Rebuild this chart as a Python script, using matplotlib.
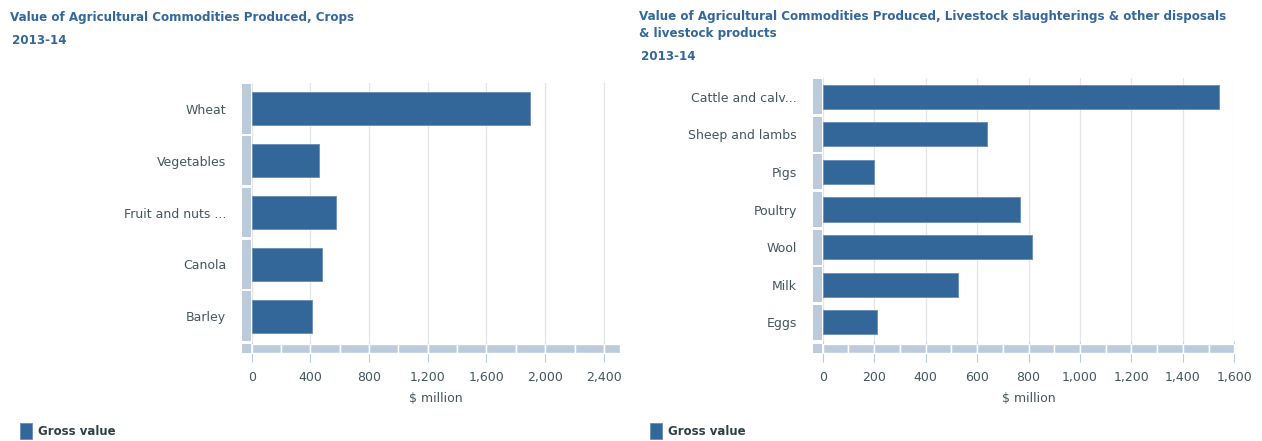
import matplotlib
matplotlib.use('Agg')
import matplotlib.pyplot as plt
import matplotlib.transforms as mtrans
from matplotlib.patches import Rectangle
import numpy as np

W, H, DPI = 1262, 441, 100

crop_title = 'Value of Agricultural Commodities Produced, Crops'
crop_names = ['Wheat', 'Vegetables', 'Fruit and nuts ...', 'Canola', 'Barley']
crop_values = [1897, 462, 574, 479, 411]
crop_ticks = [0, 400, 800, 1200, 1600, 2000, 2400]
crop_xmax = 2510

stock_title = ('Value of Agricultural Commodities Produced, Livestock slaughterings & other disposals\n'
               '& livestock products')
stock_names = ['Cattle and calv...', 'Sheep and lambs', 'Pigs', 'Poultry', 'Wool', 'Milk', 'Eggs']
stock_values = [1540, 640, 198, 767, 813, 527, 211]
stock_ticks = [0, 200, 400, 600, 800, 1000, 1200, 1400, 1600]
stock_xmax = 1600

year = '2013-14'
series_name = 'Gross value'
x_label = '$ million'

BAR = '#336699'
BAR_EDGE = '#6f93bd'
BAND = '#bccbdc'
GRID = '#e6e6e6'
TITLE_C = '#33679e'
TEXT_C = '#44565c'
LEG_C = '#2e4047'

BAND_TOP, BAND_BOT, TICK_END = 343.5, 353.0, 362.0


def draw_panel(fig, box, names, values, ticks, xmax, step, bar_h, block_h):
    x0, y0, x1, y1 = box  # pixel box, y measured from top
    pw, ph = x1 - x0, y1 - y0
    ax = fig.add_axes([x0 / W, 1 - y1 / H, pw / W, ph / H])
    ax.set_axisbelow(True)
    y = np.arange(len(names))
    ax.barh(y, values, height=bar_h, color=BAR, edgecolor=BAR_EDGE, linewidth=0.7,
            label=series_name, zorder=3)
    ax.set_xlim(0, xmax)
    ax.set_ylim(len(names) - 0.5, -0.5)
    ax.set_xticks(ticks)
    ax.set_xticklabels([f'{t:,}' for t in ticks])
    ax.set_yticks(y)
    ax.set_yticklabels(names)
    ax.grid(axis='x', color=GRID, linewidth=0.9)
    for s in ax.spines.values():
        s.set_visible(False)
    ax.tick_params(axis='x', length=(TICK_END - y1) * 0.72, width=0.8, color=BAND,
                   labelsize=9, labelcolor=TEXT_C, pad=6.5)
    ax.tick_params(axis='y', length=0, pad=18.5, labelsize=9, labelcolor=TEXT_C)
    for lab in ax.get_yticklabels():
        lab.set_va('center_baseline')

    # segmented category band on the left
    tr = mtrans.blended_transform_factory(ax.transAxes, ax.transData)
    for yi in y:
        ax.add_patch(Rectangle((-9.7 / pw, yi - block_h / 2), 8.7 / pw, block_h, transform=tr,
                               facecolor=BAND, edgecolor='none', clip_on=False, zorder=3))
    # segmented value band at the bottom
    trb = mtrans.blended_transform_factory(ax.transData, ax.transAxes)
    by = -(BAND_BOT - y1) / ph
    bh = (BAND_BOT - BAND_TOP) / ph
    edges = list(np.arange(0, xmax, step)) + [xmax]
    for a, b in zip(edges[:-1], edges[1:]):
        ax.add_patch(Rectangle((a, by), b - a, bh, transform=trb, facecolor=BAND,
                               edgecolor='white', linewidth=1.0, clip_on=False, zorder=3))
    ax.add_patch(Rectangle((-9.7 / pw, by), 8.7 / pw, bh, transform=ax.transAxes,
                           facecolor=BAND, edgecolor='none', clip_on=False, zorder=3))

    ax.set_xlabel(x_label, fontsize=9, color=TEXT_C, va='center')
    ax.xaxis.set_label_coords(0.5, -(398 - y1) / ph)
    return ax


fig = plt.figure(figsize=(W / DPI, H / DPI), dpi=DPI)

ax1 = draw_panel(fig, (251.7, 83, 620, 342), crop_names, crop_values, crop_ticks, crop_xmax, 200, 0.64, 0.95)
ax2 = draw_panel(fig, (822.7, 78, 1234.3, 341), stock_names, stock_values, stock_ticks, stock_xmax, 100, 0.64, 0.93)

tkw = dict(fontsize=8.6, fontweight='bold', color=TITLE_C, va='center', ha='left')
fig.text(10 / W, 1 - 17.5 / H, crop_title, **tkw)
fig.text(12 / W, 1 - 40.5 / H, year, **tkw)
fig.text(639 / W, 1 - 25 / H, stock_title, linespacing=1.35, **tkw)
fig.text(641 / W, 1 - 57 / H, year, **tkw)

for ax, lx in [(ax1, 20), (ax2, 650)]:
    h, l = ax.get_legend_handles_labels()
    fig.legend(h, l, loc='upper left', bbox_to_anchor=(lx / W, 1 - 423 / H), frameon=False,
               borderpad=0, borderaxespad=0, handlelength=1.0, handleheight=1.65, handletextpad=0.5,
               prop={'weight': 'bold', 'size': 8.5}, labelcolor=LEG_C)

fig.savefig('out.png', dpi=DPI)
